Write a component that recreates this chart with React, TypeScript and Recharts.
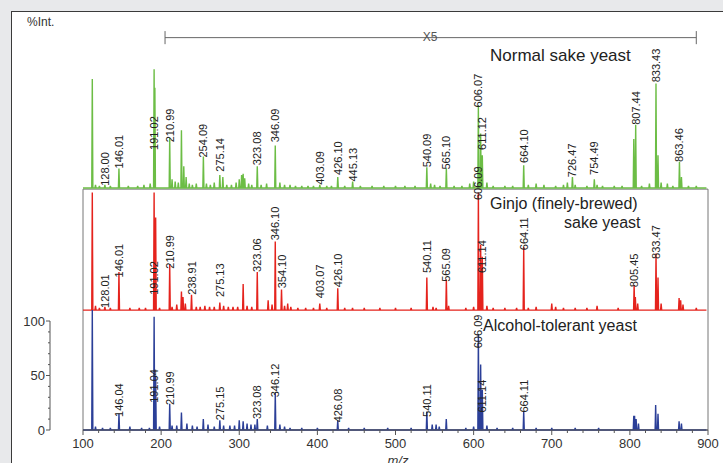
import React from "react";
import { ComposedChart, Line, Scatter, XAxis, YAxis, ReferenceArea, ReferenceLine } from "recharts";

const W = 723;
const H = 463;
const PLOT_TOP = 30;
const XAXIS_H = 33;
const PLOT_H = H - PLOT_TOP - XAXIS_H;
const Y_MAX = 367;
const UNIT = PLOT_H / Y_MAX;
// the %Int. bracket sits this far left of the plot frame
const BRACKET_GAP = 33;

// panel baselines on the %Int. scale
const BLUE_BASE = 0;
const RED_BASE = 110;
const GREEN_BASE = 222;

type Peak = [number, number];
type PeakLabelDef = [string, number];

// Normal sake yeast (green)
const greenPeaks: Peak[] = [
  [111.9, 100], [116, 3], [121, 2], [128, 3], [135, 2], [146.01, 18], [158, 2], [170, 2], [178, 3], [186, 4],
  [191.02, 109], [192, 92], [210.99, 46], [214, 8], [218, 6], [222, 5], [226, 53], [229, 20], [232, 10],
  [236, 4], [240, 3], [245, 4], [254.09, 29], [258, 4], [263, 3], [268, 5], [275.14, 12], [279, 10],
  [284, 3], [290, 3], [296, 5], [300, 8], [303, 12], [305, 13], [307, 9], [312, 4], [316, 3],
  [323.08, 20], [328, 3], [335, 4], [346.09, 39], [352, 5], [358, 3], [365, 3], [372, 2], [380, 2],
  [388, 2], [395, 2], [403.09, 3], [412, 2], [418, 2], [426.1, 10], [435, 2], [445.13, 6], [455, 2],
  [470, 2], [485, 2], [500, 2], [512, 2], [525, 2], [540.09, 19], [545, 4], [550, 3], [557, 2],
  [565.1, 18], [575, 2], [585, 2], [595, 4], [600, 6], [606.07, 76], [609, 50], [611.12, 30], [617, 5],
  [625, 2], [640, 2], [650, 2], [664.1, 21], [670, 3], [680, 4], [690, 3], [705, 2], [715, 3], [720, 5],
  [726.47, 10], [730, 3], [745, 2], [754.49, 8], [758, 3], [765, 2], [780, 2], [790, 2], [805, 45],
  [807.44, 58], [815, 2], [825, 4], [833.43, 96], [836, 30], [840, 5], [848, 4], [855, 2], [863.46, 24],
  [866, 10], [875, 2], [885, 2],
];
const greenLabels: PeakLabelDef[] = [
  ["128.00", 2], ["146.01", 18], ["191.02", 35], ["210.99", 42], ["254.09", 28], ["275.14", 15],
  ["323.08", 21], ["346.09", 42], ["403.09", 3], ["426.10", 12], ["445.13", 6], ["540.09", 19],
  ["565.10", 17], ["606.07", 74], ["611.12", 35], ["664.10", 23], ["726.47", 10], ["754.49", 12],
  ["807.44", 58], ["833.43", 97], ["863.46", 24],
];

// Ginjo sake yeast (red)
const redPeaks: Peak[] = [
  [111.9, 108], [116, 4], [121, 2], [128.01, 3], [135, 2], [146.01, 35], [160, 2], [172, 2], [180, 2],
  [191.02, 108], [193, 85], [198, 2], [210.99, 42], [214, 3], [220, 5], [226, 17], [228, 12], [231, 6],
  [238.91, 14], [245, 3], [250, 3], [256, 4], [262, 3], [268, 3], [275.13, 7], [280, 4], [286, 3],
  [292, 3], [298, 3], [305, 24], [310, 4], [316, 3], [323.06, 35], [337, 9], [342, 5], [346.1, 63],
  [354.1, 19], [358, 4], [362, 6], [366, 3], [375, 2], [385, 2], [395, 2], [403.07, 6], [412, 2],
  [426.1, 20], [435, 2], [445, 2], [460, 2], [480, 2], [500, 2], [520, 2], [540.11, 30], [548, 3],
  [552, 2], [565.09, 28], [568, 4], [590, 2], [600, 3], [606.09, 108], [609, 60], [611.14, 49], [617, 4],
  [625, 2], [640, 2], [655, 2], [664.11, 58], [670, 2], [680, 3], [700, 6], [705, 3], [715, 2], [730, 2],
  [745, 2], [758, 4], [785, 2], [805.45, 23], [807, 12], [810, 6], [833.47, 52], [836, 30], [840, 6],
  [863, 11], [865, 9], [868, 5], [885, 2],
];
const redLabels: PeakLabelDef[] = [
  ["128.01", 2], ["146.01", 30], ["191.02", 14], ["210.99", 38], ["238.91", 14], ["275.13", 12],
  ["323.06", 35], ["346.10", 64], ["354.10", 20], ["403.07", 11], ["426.10", 21], ["540.11", 34],
  ["565.09", 26], ["606.09", 101], ["611.14", 34], ["664.11", 55], ["805.45", 21], ["833.47", 47],
];

// Alcohol-tolerant yeast (blue)
const bluePeaks: Peak[] = [
  [111.9, 110], [116, 3], [125, 2], [135, 2], [146.04, 15], [160, 3], [175, 2], [185, 2], [191.04, 104],
  [193, 50], [198, 3], [210.99, 24], [214, 4], [220, 4], [226, 16], [233, 6], [240, 4], [246, 3],
  [254, 10], [260, 5], [268, 3], [275.15, 9], [280, 4], [288, 4], [294, 4], [300, 9], [305, 8],
  [310, 6], [315, 5], [320, 5], [323.08, 10], [336, 4], [346.12, 34], [352, 5], [358, 3], [365, 2],
  [380, 2], [400, 2], [426.08, 9], [440, 2], [460, 2], [490, 2], [520, 2], [540.11, 17], [547, 5],
  [552, 5], [556, 3], [565, 10], [590, 2], [600, 3], [606.09, 88], [609, 60], [611.14, 37], [617, 4],
  [630, 2], [650, 2], [664.11, 17], [680, 2], [700, 2], [730, 2], [760, 2], [805, 13], [806, 13],
  [808, 10], [811, 6], [833, 23], [836, 15], [863, 8], [866, 6],
];
const blueLabels: PeakLabelDef[] = [
  ["146.04", 12], ["191.04", 25], ["210.99", 23], ["275.15", 9], ["323.08", 10], ["346.12", 30],
  ["426.08", 7], ["540.11", 12], ["606.09", 75], ["611.14", 16], ["664.11", 16],
];

const xTicks = Array.from({ length: 41 }, (_, i) => 100 + i * 20);
const yTicks = [0, 10, 20, 30, 40, 50, 60, 70, 80, 90, 100];

// x5 magnification bracket (m/z range)
const zoomFrom = 205;
const zoomTo = 885;
const zoomAt = 360;

const FONT = "'Liberation Sans', Arial, Helvetica, sans-serif";

function sticks(peaks: Peak[], base: number) {
  const pts = [{ mz: 100, y: base }];
  [...peaks]
    .sort((a, b) => a[0] - b[0])
    .forEach(([mz, h]) => {
      pts.push({ mz: mz - 0.7, y: base }, { mz, y: base + h }, { mz: mz + 0.7, y: base });
    });
  pts.push({ mz: 898, y: base });
  return pts;
}

function labelPoints(labels: PeakLabelDef[], base: number) {
  return labels.map(([t, at]) => ({ mz: parseFloat(t), y: base + at, t }));
}

const PeakLabel = (p: any) => (
  <text
    x={p.cx}
    y={p.cy}
    transform={`rotate(-90 ${p.cx} ${p.cy})`}
    dominantBaseline="central"
    fontSize={11}
    fontFamily={FONT}
    fill="#222"
  >
    {p.payload.t}
  </text>
);

const XTick = (p: any) => {
  const v = p.payload.value;
  const major = v % 100 === 0;
  return (
    <g>
      <line x1={p.x} x2={p.x} y1={p.y} y2={p.y + (major ? 5 : 3)} stroke="#555" />
      {major && (
        <text x={p.x} y={p.y + 13} textAnchor="middle" dominantBaseline="central" fontSize={13} fontFamily={FONT} fill="#333">
          {v}
        </text>
      )}
    </g>
  );
};

const YTick = (p: any) => {
  const v = p.payload.value;
  const major = v % 50 === 0;
  const x = p.x - BRACKET_GAP;
  return (
    <g>
      <line x1={x} x2={x - (major ? 4 : 2)} y1={p.y} y2={p.y} stroke="#555" />
      {v < 100 && <line x1={x} x2={x} y1={p.y} y2={p.y - 10 * UNIT} stroke="#555" />}
      {major && (
        <text x={x - 5} y={p.y} textAnchor="end" dominantBaseline="central" fontSize={13} fontFamily={FONT} fill="#333">
          {v}
        </text>
      )}
    </g>
  );
};

const series = [
  { key: "green", peaks: greenPeaks, labels: greenLabels, base: GREEN_BASE, color: "#6cbd45" },
  { key: "red", peaks: redPeaks, labels: redLabels, base: RED_BASE, color: "#e5231d" },
  { key: "blue", peaks: bluePeaks, labels: blueLabels, base: BLUE_BASE, color: "#2b3f98" },
];

export default function App() {
  return (
    <div style={{ position: "absolute", left: 0, top: 0, width: W, height: H, overflow: "hidden", background: "#e8e9eb" }}>
      <div
        style={{
          position: "absolute",
          left: 11,
          top: 11,
          width: 800,
          height: 600,
          background: "#fff",
          borderTop: "1.5px solid #3a3a3a",
          borderLeft: "1.5px solid #3a3a3a",
        }}
      />
      <div style={{ position: "absolute", left: 0, top: 0 }}>
        <ComposedChart width={W} height={H} margin={{ top: PLOT_TOP, right: 15, bottom: 0, left: 0 }}>
          <XAxis
            dataKey="mz"
            type="number"
            domain={[100, 900]}
            ticks={xTicks}
            interval={0}
            height={XAXIS_H}
            tick={<XTick />}
            tickLine={false}
            tickSize={0}
            tickMargin={0}
            axisLine={{ stroke: "#555" }}
          />
          <YAxis
            yAxisId="int"
            width={83}
            type="number"
            domain={[0, Y_MAX]}
            ticks={yTicks}
            interval={0}
            tick={<YTick />}
            tickLine={false}
            tickSize={0}
            tickMargin={0}
            axisLine={false}
          />
          <ReferenceArea
            yAxisId="int"
            x1={100}
            x2={900}
            y1={0}
            y2={GREEN_BASE - 1}
            fill="none"
            stroke="#777"
            ifOverflow="visible"
          />
          <ReferenceLine
            yAxisId="int"
            segment={[{ x: zoomFrom, y: zoomAt }, { x: zoomTo, y: zoomAt }]}
            stroke="#666"
            ifOverflow="visible"
          />
          <ReferenceLine
            yAxisId="int"
            segment={[{ x: zoomFrom, y: zoomAt - 6 }, { x: zoomFrom, y: zoomAt + 6 }]}
            stroke="#666"
            ifOverflow="visible"
          />
          <ReferenceLine
            yAxisId="int"
            segment={[{ x: zoomTo, y: zoomAt - 6 }, { x: zoomTo, y: zoomAt + 6 }]}
            stroke="#666"
            ifOverflow="visible"
          />
          {series.map((s) => (
            <Line
              key={s.key}
              yAxisId="int"
              data={sticks(s.peaks, s.base)}
              dataKey="y"
              type="linear"
              stroke={s.color}
              strokeWidth={1.4}
              dot={false}
              activeDot={false}
              isAnimationActive={false}
            />
          ))}
          {series.map((s) => (
            <Scatter
              key={s.key + "-labels"}
              yAxisId="int"
              data={labelPoints(s.labels, s.base)}
              dataKey="y"
              shape={PeakLabel}
              isAnimationActive={false}
            />
          ))}
        </ComposedChart>
      </div>
      <svg width={W} height={H} style={{ position: "absolute", left: 0, top: 0, pointerEvents: "none" }}>
        <g fontFamily={FONT}>
          <text x={27} y={26} fontSize={12} fill="#333">%Int.</text>
          <text x={430} y={41} fontSize={12} fill="#555" textAnchor="middle">X5</text>
          <text x={490} y={61} fontSize={17} fill="#222">Normal sake yeast</text>
          <text x={490} y={209} fontSize={16} fill="#222">Ginjo (finely-brewed)</text>
          <text x={564} y={228} fontSize={16} fill="#222">sake yeast</text>
          <text x={483} y={331} fontSize={16} fill="#222">Alcohol-tolerant yeast</text>
          <text x={398} y={465} fontSize={13} fill="#333" fontStyle="italic" textAnchor="middle">m/z</text>
        </g>
      </svg>
    </div>
  );
}
